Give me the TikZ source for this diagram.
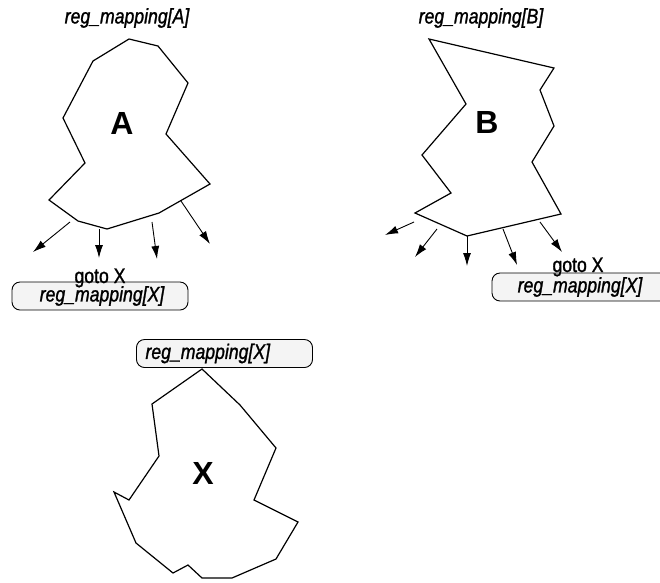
\documentclass[tikz,border=0pt]{standalone}
\usepackage{fontspec}
\newfontfamily\labelfont[FakeStretch=0.84, FakeBold=1.2]{Liberation Sans}
\newfontfamily\regfont{Liberation Sans}
\usepackage{tikz}
\usetikzlibrary{arrows.meta, positioning}
\tikzset{
>={Latex[length=13pt,width=8pt]}, % filled heads on the jumps
region/.style={line width=1.2pt, line join=miter}, % outline of a code region
jump/.style={->, line width=0.9pt}, % edge leaving a region
mapname/.style={font=\labelfont\itshape\fontsize{21}{24}\selectfont, inner sep=0pt}, % reg_mapping labels
gotolabel/.style={font=\labelfont\fontsize{21}{24}\selectfont, inner sep=0pt}, % goto text
regname/.style={font=\regfont\bfseries\fontsize{32}{36}\selectfont, inner sep=0pt}, % big letter
mapbox/.style={draw, line width=0.9pt, rounded corners=8pt, fill=gray!9, minimum width=176pt, minimum height=28pt, inner sep=0pt}, % box holding the mapping
}
\begin{document}
\begin{tikzpicture}[x=1pt, y=-1pt]
\useasboundingbox (0,0) rectangle (660,582);
% region A
\draw[region] (129,39) -- (158,46) -- (188,83) -- (166,134) -- (210,184) -- (159,213) -- (107,229)
    -- (78,221) -- (49,200) -- (85,163) -- (63,118) -- (93,61) -- cycle;
\node[mapname] (mapA) at (127,18) {reg\_mapping[A]};
\node[regname] (A) at (122,123) {A};
% region B
\draw[region] (429,39) -- (554,68) -- (540,90) -- (554,126) -- (532,162) -- (561,214) -- (467,236)
    -- (415,213) -- (451,193) -- (422,155) -- (466,104) -- cycle;
\node[mapname] (mapB) at (481,18) {reg\_mapping[B]};
\node[regname] (B) at (487,122) {B};
% region X
\draw[region] (202,369) -- (240,405) -- (276,448) -- (254,500) -- (298,522) -- (276,559) -- (232,578)
    -- (202,578) -- (188,565) -- (173,573) -- (136,543) -- (114,492) -- (129,500) -- (159,456)
    -- (152,404) -- cycle;
\node[regname] (X) at (203,473) {X};

% jumps out of A
\coordinate (a1) at (70,222);  \coordinate (a1e) at (33,252);
\coordinate (a2) at (99,229);  \coordinate (a2e) at (99,258);
\coordinate (a3) at (152,222); \coordinate (a3e) at (157,259);
\coordinate (a4) at (181,201); \coordinate (a4e) at (210,244);
\draw[jump] (a1) -- (a1e);
\draw[jump] (a2) -- (a2e);
\draw[jump] (a3) -- (a3e);
\draw[jump] (a4) -- (a4e);

% jumps out of B
\coordinate (b1) at (414,222); \coordinate (b1e) at (385,235);
\coordinate (b2) at (437,229); \coordinate (b2e) at (415,257);
\coordinate (b3) at (467,236); \coordinate (b3e) at (467,266);
\coordinate (b4) at (503,229); \coordinate (b4e) at (517,265);
\coordinate (b5) at (540,222); \coordinate (b5e) at (562,252);
\draw[jump] (b1) -- (b1e);
\draw[jump] (b2) -- (b2e);
\draw[jump] (b3) -- (b3e);
\draw[jump] (b4) -- (b4e);
\draw[jump] (b5) -- (b5e);

% mapping boxes
\node[mapbox, mapname] (boxA) at (100,296) {\hspace*{4pt}reg\_mapping[X]};
\node[gotolabel, anchor=base] (gotoA) at (100,283) {goto X};
\node[mapbox, mapname] (boxB) at (580,287) {reg\_mapping[X]};
\node[gotolabel, anchor=base] (gotoB) at (578,272) {goto X};
\node[mapbox, mapname, text width=158pt, inner xsep=9pt, align=left] (boxX) at (224.5,353.5) {reg\_mapping[X]};
\end{tikzpicture}
\end{document}
